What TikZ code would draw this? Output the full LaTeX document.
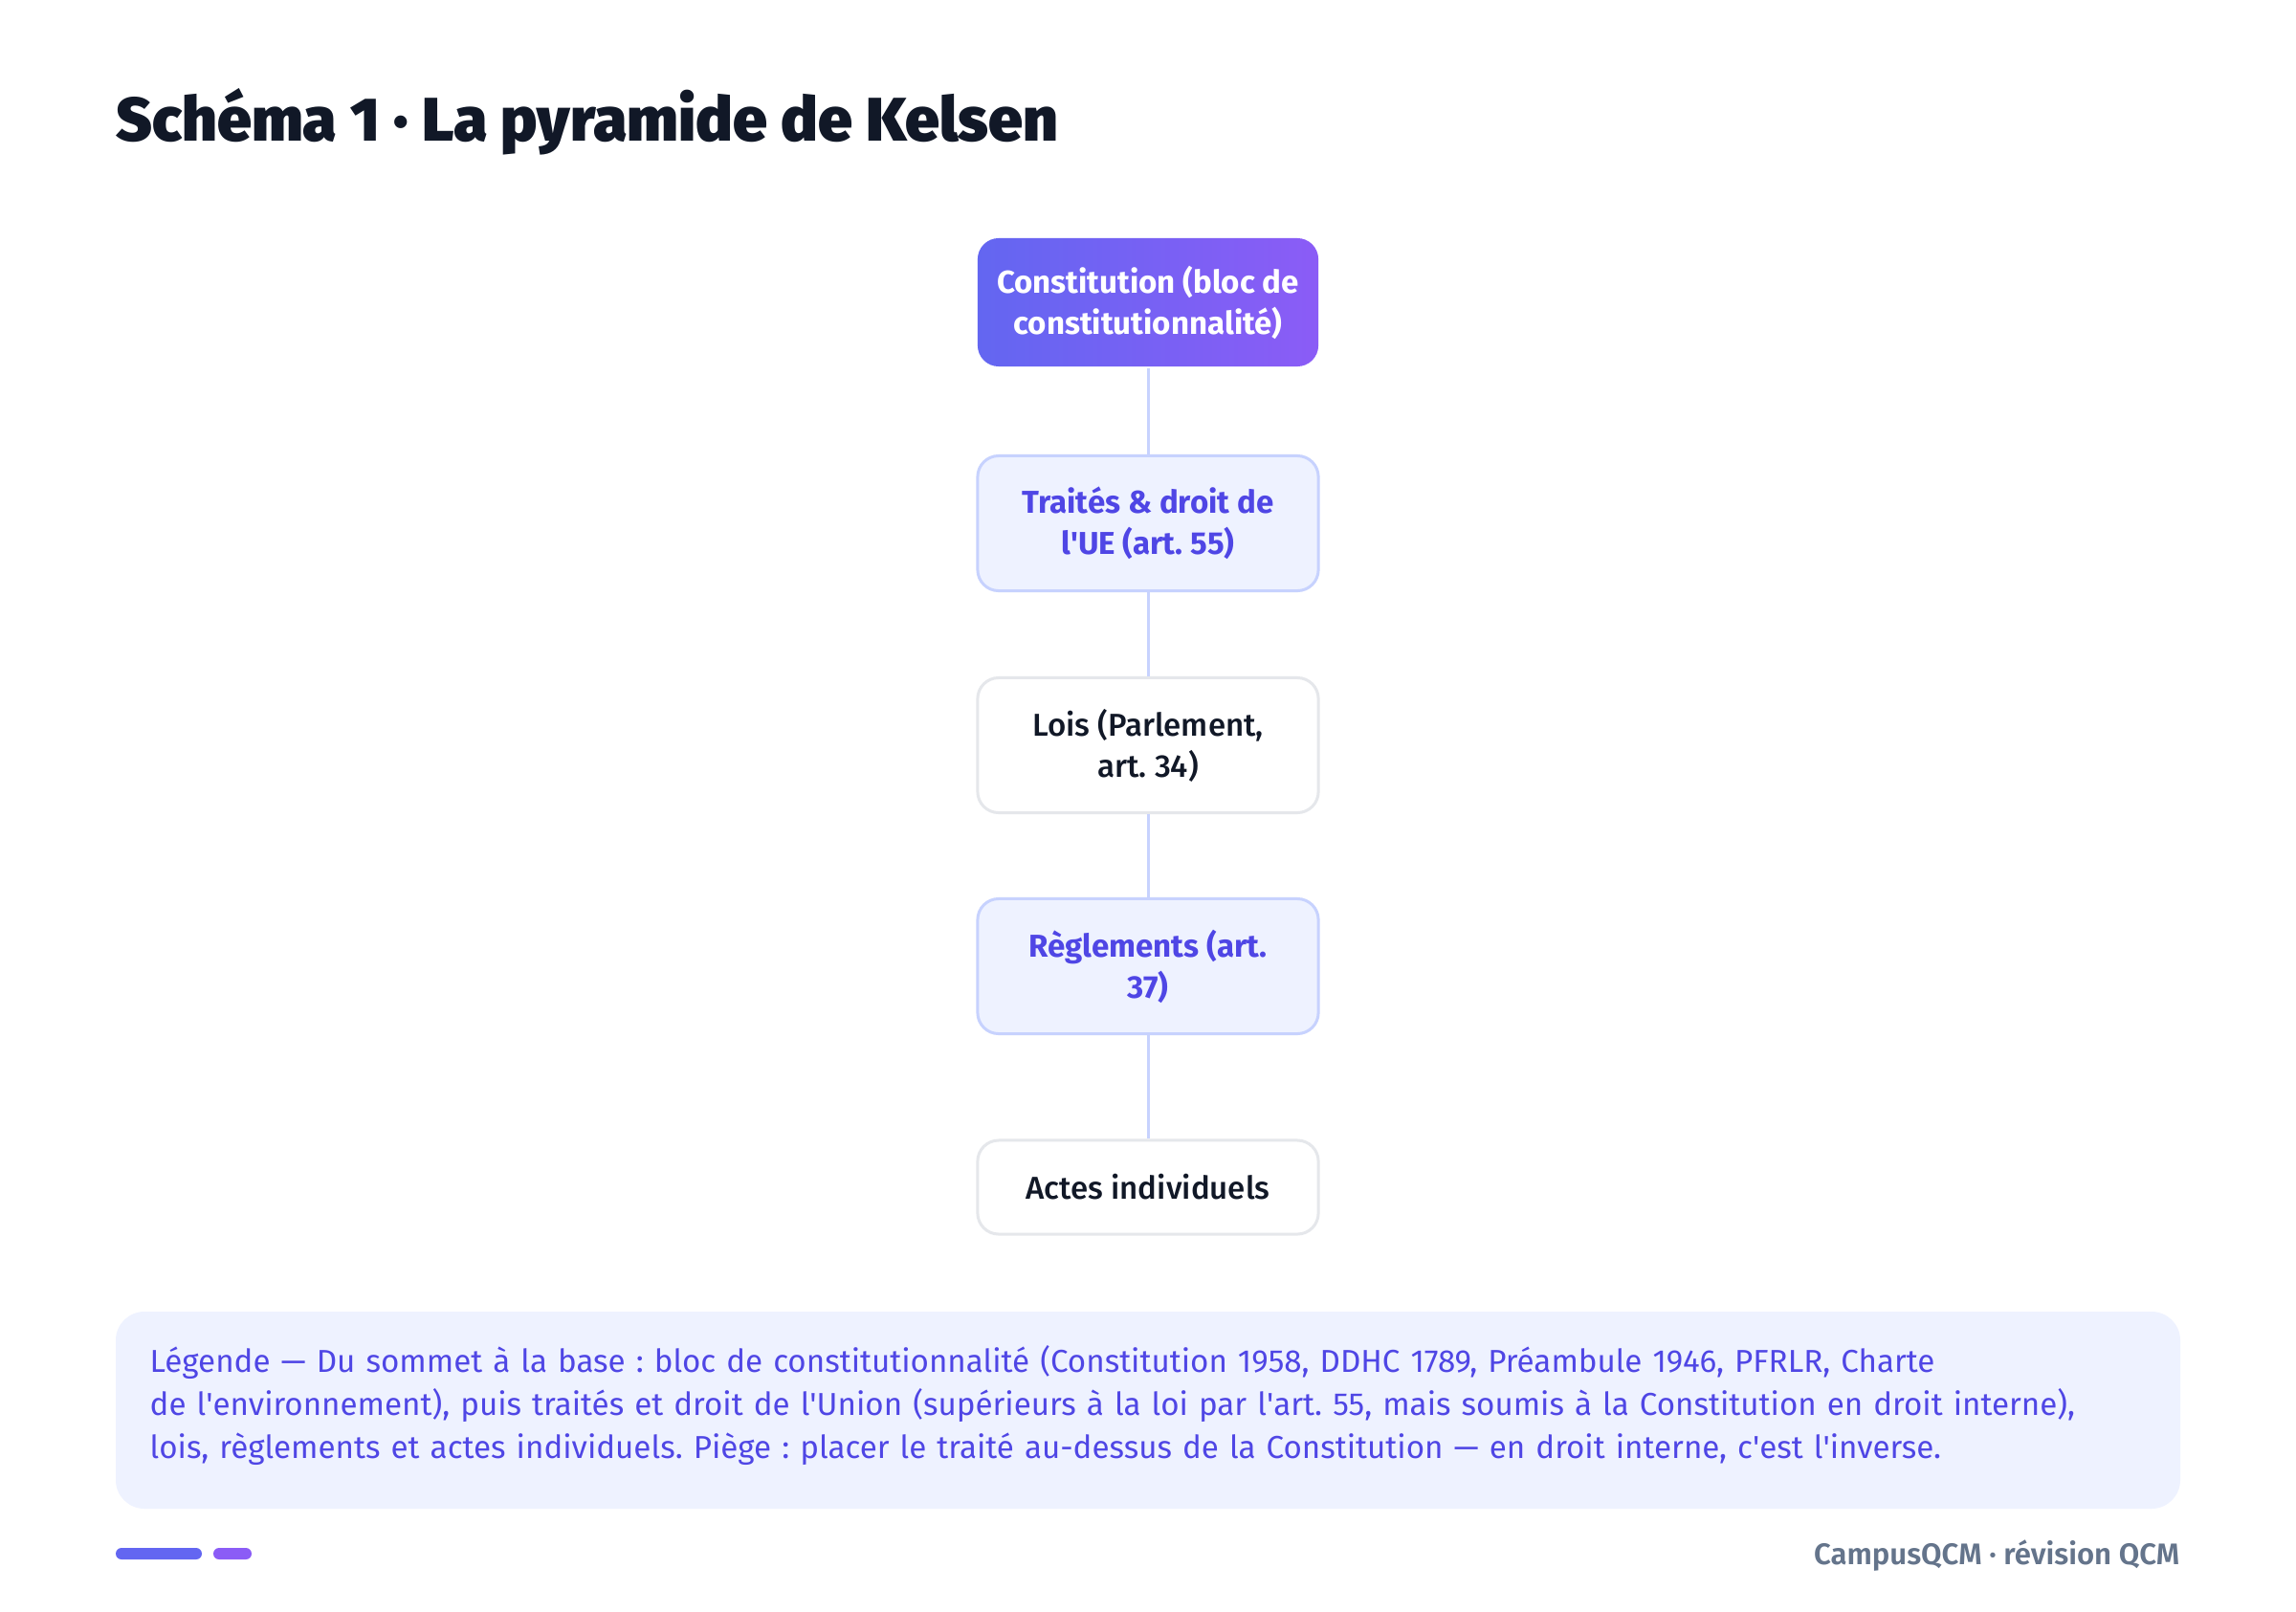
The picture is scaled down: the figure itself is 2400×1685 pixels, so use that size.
\documentclass[tikz,border=0pt]{standalone}
\usepackage{fontspec}
\setmainfont{Fira Sans}
\newfontfamily\titlefont{Fira Sans}[UprightFont={* Black}]
\newfontfamily\mediumfont{Fira Sans}[UprightFont={* Medium}]
\newfontfamily\semifont{Fira Sans}[UprightFont={* SemiBold}]
\definecolor{indigoA}{HTML}{6366F1}
\definecolor{violetA}{HTML}{8B5CF6}
\definecolor{paleFill}{HTML}{EEF2FF}
\definecolor{paleLine}{HTML}{C7D2FE}
\definecolor{indigoText}{HTML}{4F46E5}
\definecolor{darkText}{HTML}{111827}
\definecolor{greyLine}{HTML}{E5E7EB}
\definecolor{footGrey}{HTML}{64748B}
\frenchspacing

\begin{document}
\begin{tikzpicture}[x=0.01cm, y=-0.01cm,
  box/.style={rounded corners=0.22cm, minimum width=3.56cm, minimum height=1.41cm, align=center, line width=0.85pt, font=\mediumfont\fontsize{9.4}{12.2}\selectfont},
  top/.style={box, left color=indigoA, right color=violetA, text=white, font=\fontsize{9.4}{12.2}\selectfont\bfseries, minimum height=1.34cm},
  pale/.style={box, fill=paleFill, draw=paleLine, text=indigoText, font=\fontsize{9.4}{12.2}\selectfont\bfseries},
  plain/.style={box, fill=white, draw=greyLine, text=darkText},
  link/.style={draw=paleLine, line width=0.85pt}]
	\useasboundingbox[fill=white] (0,0) rectangle (2400,1685);
	\node[anchor=base west, inner sep=0pt, text=darkText, font=\titlefont\fontsize{18.3}{22}\selectfont] (titre) at (121,148) {Schéma 1 · La pyramide de Kelsen};
	\node[top] (constitution) at (1200,316) {Constitution (bloc de\\constitutionnalité)};
	\node[pale] (traites) at (1200,547) {Traités \& droit de\\l\textquotesingle UE (art. 55)};
	\node[plain] (lois) at (1200,779) {Lois (Parlement,\\art. 34)};
	\node[pale] (reglements) at (1200,1010) {Règlements (art.\\37)};
	\node[plain, minimum height=0.98cm] (actes) at (1200,1241) {Actes individuels};
	\draw[link] (constitution) -- (traites);
	\draw[link] (traites) -- (lois);
	\draw[link] (lois) -- (reglements);
	\draw[link] (reglements) -- (actes);
	\fill[paleFill, rounded corners=0.3cm] (121,1371) rectangle (2279,1577);
	\node[anchor=base west, inner sep=0pt, text width=20.88cm, align=left, text=indigoText, font=\fontsize{9.43}{12.8}\selectfont] (legende) at (156,1434) {Légende — Du sommet à la base : bloc de constitutionnalité (Constitution 1958, DDHC 1789, Préambule 1946, PFRLR, Charte\\de l\textquotesingle environnement), puis traités et droit de l\textquotesingle Union (supérieurs à la loi par l\textquotesingle art. 55, mais soumis à la Constitution en droit interne),\\lois, règlements et actes individuels. Piège : placer le traité au-dessus de la Constitution — en droit interne, c\textquotesingle est l\textquotesingle inverse.};
	\fill[indigoA, rounded corners=0.06cm] (121,1618) rectangle (211,1630);
	\fill[violetA, rounded corners=0.06cm] (223,1618) rectangle (263,1630);
	\node[anchor=base east, inner sep=0pt, text=footGrey, font=\semifont\fontsize{8.85}{10}\selectfont] (pied) at (2279,1635) {CampusQCM · révision QCM};
\end{tikzpicture}
\end{document}
